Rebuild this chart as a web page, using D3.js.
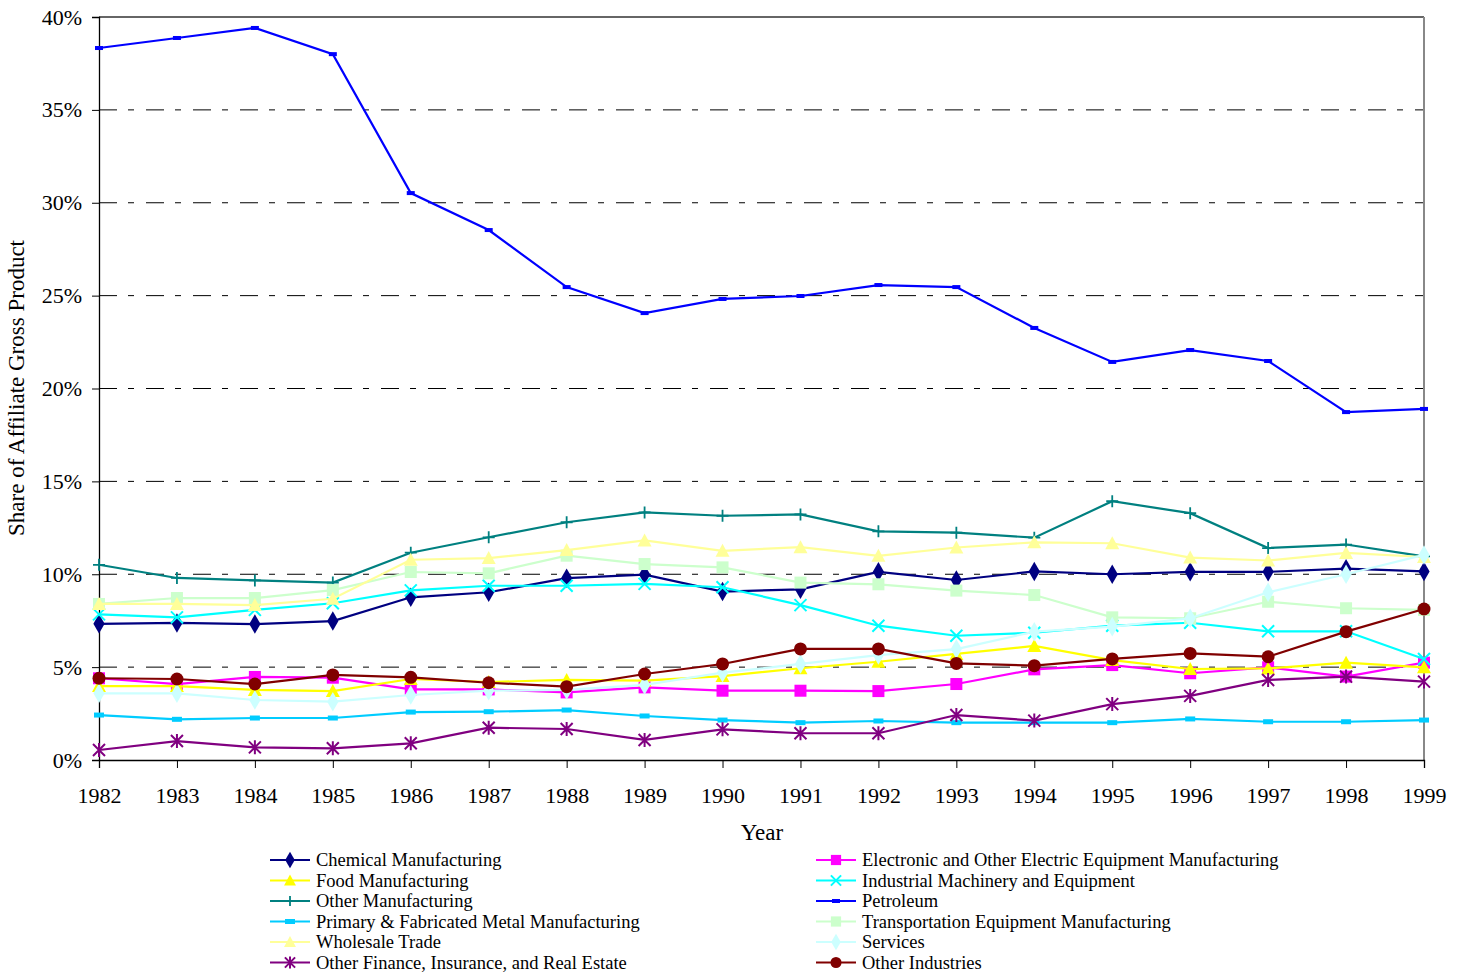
<!DOCTYPE html>
<html>
<head>
<meta charset="utf-8">
<script src="https://cdn.jsdelivr.net/npm/d3@7"></script>
<style>
  body { margin: 0; background: #fff; }
  svg { display: block; font-family: "Liberation Serif", "Times New Roman", serif; }
</style>
</head>
<body>
<svg id="chart" width="1463" height="974"></svg>
<script>
const years = [1982,1983,1984,1985,1986,1987,1988,1989,1990,1991,1992,1993,1994,1995,1996,1997,1998,1999];
const yTicks = [0,5,10,15,20,25,30,35,40];

const chemical   = [7.33,7.38,7.32,7.48,8.76,9.03,9.79,9.98,9.07,9.19,10.13,9.69,10.15,10.0,10.13,10.13,10.3,10.15];
const electronic = [4.40,4.09,4.47,4.43,3.80,3.80,3.64,3.91,3.73,3.73,3.71,4.09,4.88,5.11,4.67,4.99,4.49,5.24];
const food       = [3.98,3.98,3.77,3.71,4.36,4.20,4.31,4.27,4.52,4.94,5.29,5.71,6.14,5.38,4.90,4.93,5.24,4.99];
const industrial = [7.84,7.68,8.08,8.44,9.13,9.38,9.38,9.48,9.30,8.34,7.23,6.69,6.85,7.23,7.39,6.93,6.93,5.44];
const otherMfg   = [10.51,9.80,9.67,9.55,11.16,11.99,12.80,13.33,13.15,13.22,12.31,12.24,11.97,13.93,13.29,11.41,11.60,10.96];
const petroleum  = [38.33,38.87,39.41,38.00,30.52,28.53,25.46,24.06,24.82,24.98,25.57,25.46,23.26,21.43,22.07,21.48,18.73,18.90];
const primary    = [2.42,2.19,2.26,2.26,2.58,2.60,2.69,2.37,2.15,2.01,2.10,2.01,2.01,2.01,2.21,2.06,2.06,2.15];
const transport  = [8.40,8.72,8.72,9.15,10.12,10.05,11.00,10.55,10.37,9.55,9.46,9.12,8.88,7.68,7.63,8.52,8.17,8.08];
const wholesale  = [8.40,8.40,8.34,8.68,10.78,10.87,11.30,11.82,11.26,11.46,10.99,11.44,11.72,11.67,10.90,10.74,11.15,10.93];
const services   = [3.59,3.59,3.23,3.14,3.50,3.73,3.77,4.04,4.70,5.17,5.65,5.97,6.91,7.18,7.63,9.03,10.00,11.04];
const otherFin   = [0.54,1.02,0.68,0.63,0.90,1.74,1.67,1.08,1.65,1.44,1.44,2.42,2.12,3.01,3.45,4.31,4.49,4.22];
const otherInd   = [4.40,4.36,4.09,4.58,4.45,4.16,3.95,4.63,5.17,5.98,5.98,5.20,5.08,5.44,5.74,5.56,6.91,8.13];

const seriesNames = ["Chemical Manufacturing","Electronic and Other Electric Equipment Manufacturing","Food Manufacturing","Industrial Machinery and Equipment","Other Manufacturing","Petroleum","Primary & Fabricated Metal Manufacturing","Transportation Equipment Manufacturing","Wholesale Trade","Services","Other Finance, Insurance, and Real Estate","Other Industries"];
const seriesValues = [chemical,electronic,food,industrial,otherMfg,petroleum,primary,transport,wholesale,services,otherFin,otherInd];
const seriesColors = ["#000080","#FF00FF","#FFFF00","#00FFFF","#008080","#0000FF","#00CCFF","#CCFFCC","#FFFF99","#CCFFFF","#800080","#800000"];
const seriesMarkers = ["diamond","square","triangle","x","plus","dash","dash2","square","triangle","diamond","star","circle"];

const series = seriesNames.map((n,i)=>({name:n, values:seriesValues[i], color:seriesColors[i], marker:seriesMarkers[i]}));

const svg = d3.select("#chart");
const L = 99, R = 1424, T = 17, B = 760;
const x = d3.scaleLinear().domain([1982,1999]).range([L,R]);
const y = d3.scaleLinear().domain([0,40]).range([B,T]);

// gridlines
svg.append("g").selectAll("line").data(yTicks.filter(d=>d>0 && d<40)).join("line")
  .attr("x1",L).attr("x2",R).attr("y1",d=>y(d)).attr("y2",d=>y(d))
  .attr("stroke","#000").attr("stroke-width",1).attr("stroke-dasharray","18,11,6,12");

// plot frame top & right
svg.append("line").attr("x1",L).attr("x2",R).attr("y1",T).attr("y2",T).attr("stroke","#333").attr("stroke-width",1.3);
svg.append("line").attr("x1",R).attr("x2",R).attr("y1",T).attr("y2",B).attr("stroke","#888").attr("stroke-width",2);

// axes
const yAxis = d3.axisLeft(y).tickValues(yTicks).tickFormat(d=>d+"%").tickSize(7).tickPadding(10);
const gy = svg.append("g").attr("transform",`translate(${L},0)`).call(yAxis);
gy.select(".domain").attr("stroke","#000").attr("stroke-width",1.3);
gy.selectAll(".tick line").attr("stroke","#000");
gy.selectAll("text").attr("font-size",22).attr("fill","#000").attr("font-family","Liberation Serif, serif");

const xAxis = d3.axisBottom(x).tickValues(years).tickFormat(d3.format("d")).tickSize(8).tickPadding(19);
const gx = svg.append("g").attr("transform",`translate(0,${B})`).call(xAxis);
gx.select(".domain").attr("stroke","#000").attr("stroke-width",1.3);
gx.selectAll(".tick line").attr("stroke","#000");
gx.selectAll("text").attr("font-size",22).attr("fill","#000").attr("font-family","Liberation Serif, serif");

// axis titles
svg.append("text").attr("x",762).attr("y",840).attr("text-anchor","middle").attr("font-size",23).text("Year");
svg.append("text").attr("transform","translate(24,388) rotate(-90)").attr("text-anchor","middle").attr("font-size",23).text("Share of Affiliate Gross Product");

// marker drawing
function drawMarker(g, type, color, cx, cy, s) {
  s = s || 1;
  switch(type) {
    case "diamond":
      g.append("path").attr("d",d3.symbol(d3.symbolDiamond, 110*s*s)()).attr("transform",`translate(${cx},${cy})`).attr("fill",color);
      break;
    case "square":
      g.append("rect").attr("x",cx-6*s).attr("y",cy-6*s).attr("width",12*s).attr("height",12*s).attr("fill",color);
      break;
    case "triangle":
      g.append("path").attr("d",`M${cx},${cy-7*s}L${cx+7*s},${cy+6*s}L${cx-7*s},${cy+6*s}Z`).attr("fill",color);
      break;
    case "circle":
      g.append("circle").attr("cx",cx).attr("cy",cy).attr("r",6.5*s).attr("fill",color);
      break;
    case "x":
      g.append("path").attr("d",`M${cx-6*s},${cy-6*s}L${cx+6*s},${cy+6*s}M${cx-6*s},${cy+6*s}L${cx+6*s},${cy-6*s}`).attr("stroke",color).attr("stroke-width",2).attr("fill","none");
      break;
    case "plus":
      g.append("path").attr("d",`M${cx-6*s},${cy}L${cx+6*s},${cy}M${cx},${cy-6*s}L${cx},${cy+6*s}`).attr("stroke",color).attr("stroke-width",1.8).attr("fill","none");
      break;
    case "star":
      g.append("path").attr("d",`M${cx-6*s},${cy-6*s}L${cx+6*s},${cy+6*s}M${cx-6*s},${cy+6*s}L${cx+6*s},${cy-6*s}M${cx},${cy-7*s}L${cx},${cy+7*s}`).attr("stroke",color).attr("stroke-width",2).attr("fill","none");
      break;
    case "dash":
      g.append("rect").attr("x",cx-4).attr("y",cy-2).attr("width",8).attr("height",4).attr("fill",color);
      break;
    case "dash2":
      g.append("rect").attr("x",cx-5).attr("y",cy-2.5).attr("width",10).attr("height",5).attr("fill",color);
      break;
  }
}

const line = d3.line().x((d,i)=>x(years[i])).y(d=>y(d));
series.forEach(s=>{
  const g = svg.append("g");
  g.append("path").datum(s.values).attr("d",line).attr("fill","none").attr("stroke",s.color).attr("stroke-width",2.2);
  s.values.forEach((v,i)=>drawMarker(g, s.marker, s.color, x(years[i]), y(v)));
});

// legend
const leg = svg.append("g");
series.forEach((s,i)=>{
  const col = i % 2, row = Math.floor(i/2);
  const lx = col === 0 ? 270 : 816;
  const ly = 860 + row*20.5;
  const g = leg.append("g");
  g.append("line").attr("x1",lx).attr("x2",lx+40).attr("y1",ly).attr("y2",ly).attr("stroke",s.color).attr("stroke-width",2);
  drawMarker(g, s.marker, s.color, lx+20, ly, 0.85);
  g.append("text").attr("x",lx+46).attr("y",ly+6).attr("font-size",18.5).attr("fill","#000").text(s.name);
});
</script>
</body>
</html>
